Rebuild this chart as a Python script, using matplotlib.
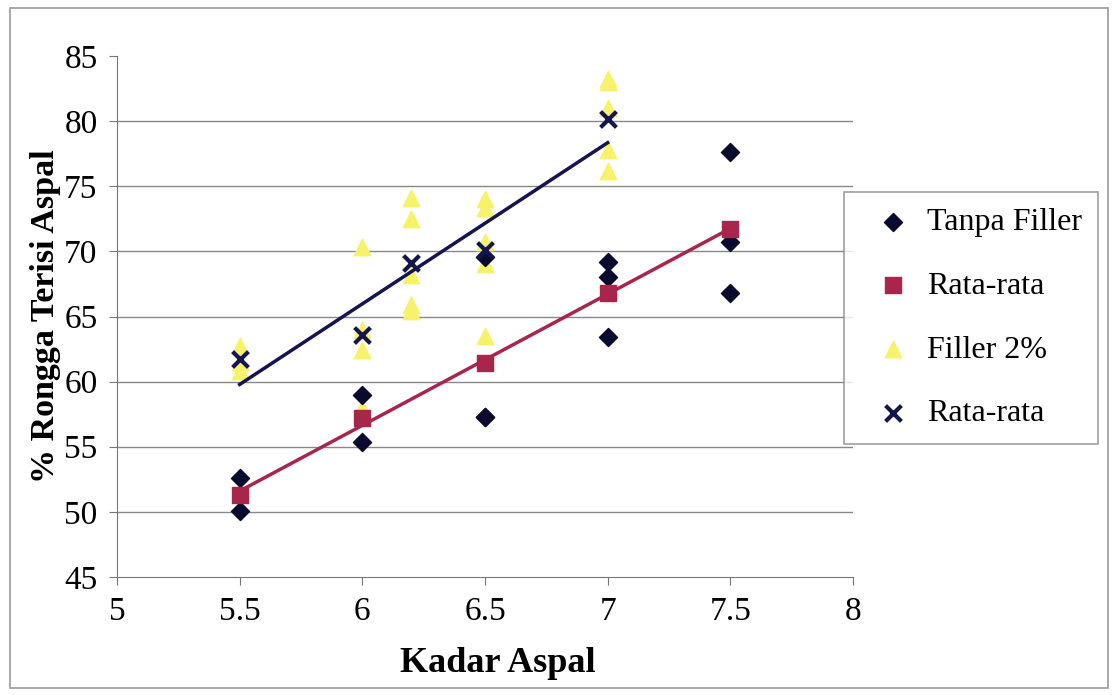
import numpy as np
import matplotlib
matplotlib.use('Agg')
import matplotlib.pyplot as plt
from matplotlib.patches import Rectangle

plt.rcParams['font.family'] = ['Liberation Serif', 'DejaVu Serif']

# Kadar aspal (%) dan % rongga terisi aspal
x_tanpa = [5.5, 5.5, 6, 6, 6.5, 6.5, 6.5, 7, 7, 7, 7.5, 7.5, 7.5]
y_tanpa = [52.6, 50.1, 59.0, 55.4, 57.3, 57.3, 69.6, 69.2, 68.0, 63.4, 77.6, 70.7, 66.8]

x_rata1 = [5.5, 6, 6.5, 7, 7.5]
y_rata1 = [51.3, 57.2, 61.4, 66.8, 71.7]

x_filler = [5.5, 5.5, 5.5, 6, 6, 6, 6, 6.2, 6.2, 6.2, 6.2, 6.2,
            6.5, 6.5, 6.5, 6.5, 6.5, 7, 7, 7, 7, 7]
y_filler = [62.7, 61.5, 60.8, 70.3, 64.0, 62.4, 58.0, 74.1, 72.5, 68.2, 65.9, 65.4,
            74.0, 73.3, 70.7, 69.0, 63.5, 83.2, 83.0, 81.0, 77.8, 76.2]

x_rata2 = [5.5, 6, 6.2, 6.5, 7]
y_rata2 = [61.7, 63.6, 69.1, 70.1, 80.2]

c_tanpa = '#0a0a2e'
c_rata1 = '#a8264b'
c_filler = '#f6f26a'
c_rata2 = '#141450'

fig = plt.figure(figsize=(11.16, 6.95), dpi=100)
ax = fig.add_axes([117 / 1116, 1 - 577 / 695, 736 / 1116, 521 / 695])

# garis trend linear
def trend(xs, ys):
    k, b = np.polyfit(xs, ys, 1)
    xx = np.array([min(xs), max(xs)])
    return xx, k * xx + b

ax.scatter(x_tanpa, y_tanpa, marker='D', s=85, color=c_tanpa, zorder=3, label='Tanpa Filler')
ax.scatter(x_rata1, y_rata1, marker='s', s=120, color=c_rata1, zorder=4, label='Rata-rata')
ax.scatter(x_filler, y_filler, marker='^', s=140, color=c_filler, zorder=2, label='Filler 2%')
ax.scatter(x_rata2, y_rata2, marker='x', s=130, color=c_rata2, linewidths=3, zorder=5, label='Rata-rata')

tx, ty = trend(x_rata1, y_rata1)
ax.plot(tx, ty, color=c_rata1, lw=2.5, zorder=3)
tx, ty = trend(x_rata2, y_rata2)
ax.plot(tx, ty, color=c_rata2, lw=2.5, zorder=3)

ax.set_xlim(5, 8)
ax.set_ylim(45, 85)
ax.set_xticks([5, 5.5, 6, 6.5, 7, 7.5, 8])
ax.set_xticklabels(['5', '5.5', '6', '6.5', '7', '7.5', '8'])
ax.set_yticks(range(45, 90, 5))
ax.tick_params(labelsize=24, length=6, color='#777777', pad=8)
for y in range(50, 85, 5):
    ax.axhline(y, color='#888888', lw=1, zorder=1)
for s in ['top', 'right']:
    ax.spines[s].set_visible(False)
for s in ['left', 'bottom']:
    ax.spines[s].set_color('#777777')

ax.set_xlabel('Kadar Aspal', fontsize=26, fontweight='bold')
ax.xaxis.set_label_coords(0.518, -0.135)
ax.set_ylabel('% Rongga Terisi Aspal', fontsize=24.5, fontweight='bold', labelpad=2)

leg = ax.legend(loc='center', bbox_to_anchor=(971 / 1116, 1 - 318 / 695),
                bbox_transform=fig.transFigure, fontsize=23, frameon=True,
                fancybox=False, edgecolor='#888888', labelspacing=1.08,
                handlelength=2.1, handletextpad=0.0, borderpad=0.5,
                scatterpoints=1)
leg.get_frame().set_linewidth(1.2)

# bingkai luar
fig.patches.append(Rectangle((10 / 1116, 7 / 695), 1098 / 1116, 680 / 695,
                             transform=fig.transFigure, fill=False,
                             edgecolor='#999999', lw=1.2))

fig.savefig('out.png', dpi=100)
